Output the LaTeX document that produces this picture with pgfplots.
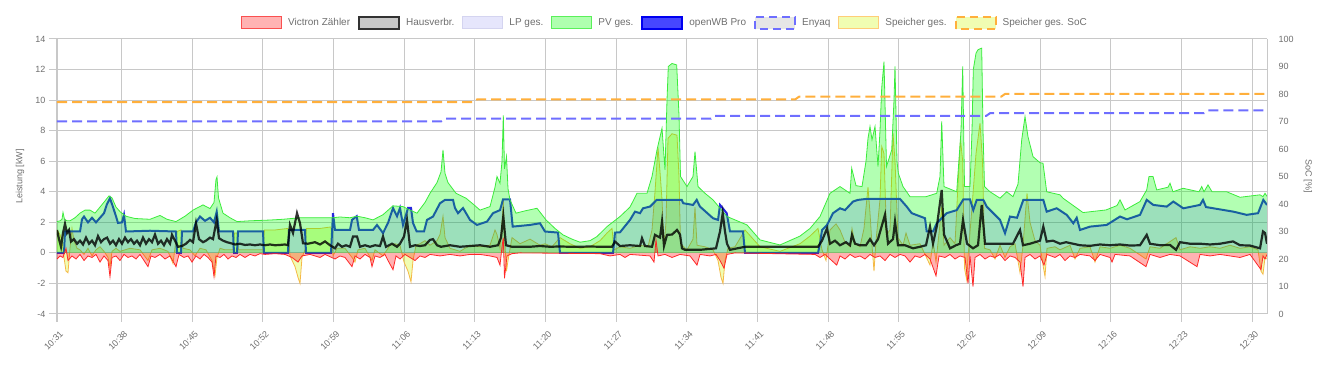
\documentclass[border=0pt]{standalone}
\usepackage{fontspec}
\setmainfont{Liberation Sans}
\usepackage{pgfplots}
\usepackage{pgfplotstable}
\pgfplotsset{compat=1.18}
\definecolor{gridc}{RGB}{200,200,200}
\definecolor{txt}{RGB}{110,110,110}
\definecolor{vzline}{RGB}{255,40,40}
\definecolor{pvline}{RGB}{60,235,60}
\definecolor{spline}{RGB}{245,185,70}
\definecolor{spfill}{RGB}{205,248,0}
\definecolor{enyaq}{RGB}{110,110,255}
\definecolor{spsoc}{RGB}{255,175,60}
\definecolor{wbline}{RGB}{40,40,220}

% x = sample position (chart.js category index scale), y = kW
\pgfplotstableread{
x y
57 2.05
60 2.1
62 2.2
63 2.65
64.5 2.2
67 2.1
70 2.1
75 2.3
80 2.6
85 2.8
90 2.8
95 2.6
100 3.0
105 3.4
109 3.73
112 3.6
116 3.0
120 2.7
126 2.4
135 2.25
150 2.2
160 2.45
167 2.2
176 2.05
185 2.4
193 2.8
203 3.14
210 2.9
214 3.3
216 4.8
217 4.97
218.5 3.6
223 2.6
230 2.3
237 2.05
250 2.1
270 2.15
283 2.2
300 2.3
320 2.3
333 2.3
340 2.35
350 2.3
357 2.4
365 2.3
373 2.16
383 2.5
393 3.08
403 3.03
410 2.8
417 2.6
425 3.3
430 3.9
437 4.6
441 5.3
443 6.74
445 5.2
448 4.6
456 3.9
466 3.58
473 3.2
480 2.8
490 3.03
495 4.3
497 5.0
500 4.56
502 6.0
503.3 9.0
504.5 5.5
506.5 6.3
508 4.2
510 3.47
516 2.6
525 2.75
537 2.92
546 2.16
555 1.6
563 1.18
572 0.9
580 0.7
590 0.8
597 1.07
607 1.72
620 2.38
630 3.0
637 3.9
647 3.9
652 5.0
657 6.74
662 8.16
665 5.43
667 10
668.3 12.2
672 12.4
676.7 12.3
679 9
680.5 5.0
687 4.34
693 5.0
695 6.63
698 4.34
705 3.9
713 3.47
727 2.38
747 1.83
760 0.85
780 0.52
800 1.1
810 1.6
820 2.38
830 3.9
840 4.34
850 3.9
851.7 5.54
856 4.4
862 4.34
866 6.0
868 7.5
870 8.27
872 7.4
875 8.27
878 5.65
880 8
881.7 10.78
884 12.52
886.5 5.65
891.7 6.74
894 10
895 12.2
897 6
898.3 5.22
903 4.34
910 3.68
926 3.68
936.7 3.9
940 5
941.7 8.6
944 4.34
956.7 4.0
961 8
962.7 12.2
964.5 4.34
970 4.34
972 8
973.3 12.0
976 13.07
978 13.3
981.7 13.4
983 8
984.5 4.34
990 4.0
1000 3.58
1006.7 4.0
1013 3.68
1018 4.5
1021.7 7.4
1025 8.92
1028 7.6
1033 6.3
1040 5.9
1043 5.87
1046.7 4.0
1060 3.8
1063 3.58
1083 2.64
1106 2.81
1117 3.1
1120 3.47
1125 2.81
1140 3.36
1146.7 4.12
1149 5.0
1153 5.0
1156.7 4.12
1168 4.3
1170 4.56
1173 4.0
1183 4.23
1199 4.0
1201.7 4.34
1204 4.0
1208 4.45
1212 4.0
1226.7 4.0
1240 3.64
1260 3.8
1263 3.68
1265 3.9
1267 3.7
}\pv

\pgfplotstableread{
x y
57 0
64 0
65 1.4
80 1.4
82 2.2
84 2.38
88 2.0
92 2.3
96 2.0
100 2.3
104 2.6
107 3.2
110 3.58
113 3.0
116 2.4
118 1.96
122 2.0
124 2.5
126 1.4
150 1.45
176 1.4
177 0
181 0
182 1.4
193 1.4
196 2.0
200 2.38
205 2.1
210 2.3
214 2.0
216.7 2.7
219 1.4
233 1.4
234 0
237 0
238 1.4
263 1.4
264 0
288 0
289 1.5
305 1.5
306 0
331 0
333 2.6
335 1.5
350 1.5
352 2.16
356.7 2.4
359 1.5
373 1.5
377 1.83
383 1.3
388 1.96
393 2.94
397 2.4
400 2.94
403 1.83
408 2.94
411 2.94
413 1.96
416.7 1.4
424 1.4
427 2.16
433 2.38
440 3.25
445 3.47
453 3.47
455 2.94
458 2.6
463 2.94
470 2.16
477 1.83
487 2.05
493 2.6
500 2.8
503 3.5
510 3.5
512.7 1.72
530 1.83
540 1.94
545 1.4
558 1.33
560 0
613 0
615 1.33
620 1.35
630 2.16
635 2.7
640 2.6
643 2.92
650 3.03
656.7 3.47
681.7 3.47
683.3 3.25
693 3.14
696.7 3.47
700 3.03
713 2.27
718 2.16
720 3.14
726.7 2.6
730 1.4
743 1.4
745 0
818 0
820 0.63
822 1.5
827 1.83
833 2.6
840 2.92
845 2.8
853 3.36
858 3.47
866 3.53
900 3.53
906.7 3.03
911.7 2.6
925 2.27
926.7 1.4
933 1.4
936.7 1.94
940 2.16
946.7 2.6
956.7 2.8
963.3 3.5
970 3.5
973.3 2.8
976.7 3.47
983.3 3.47
986.7 3.03
993.3 2.6
1000 2.16
1005 1.29
1010 2.38
1017 2.3
1023.3 3.47
1043.3 3.47
1046.7 2.7
1056.7 2.92
1066.7 2.49
1073.3 1.94
1076.7 2.3
1080 1.5
1090 1.72
1106.7 1.83
1120 2.38
1127 2.2
1140 2.49
1146.7 3.47
1153.3 3.14
1166.7 3.03
1173.3 3.36
1183.3 2.92
1200 3.14
1203 3.47
1206 3.0
1213.3 2.92
1233.3 2.7
1246.7 2.49
1258 2.6
1263.3 3.47
1267 3.14
}\lp

\pgfplotstableread{
x y
57 1.5
59 0.9
61 0.4
63 1.3
65 1.9
67 1.3
69 1.5
71 0.74
74 0.9
77 0.6
80 0.8
83 0.55
86 1.0
89 0.6
92 0.8
95 0.5
98 1.1
101 0.7
104 0.9
107 1.0
110 0.6
113 0.8
116 0.5
119 0.9
122 0.6
125 1.0
128 0.7
131 0.9
134 0.6
137 0.8
140 0.5
143 1.0
146 0.6
149 0.9
152 0.7
155 1.2
158 0.6
161 0.8
164 0.5
167 0.9
170 0.6
172 1.18
175 0.8
178 0.4
182 0.45
186 0.6
190 0.85
193 0.7
196 1.94
199 0.9
203 0.7
206 0.8
210 1.0
213 0.9
216.7 2.16
219 0.96
223 0.8
227 0.7
231 0.63
235 0.55
240 0.6
245 0.52
250 0.55
255 0.5
260 0.55
265 0.5
270 0.55
275 0.5
280 0.52
285 0.55
288 0.5
290 1.83
293 1.3
297 2.6
300 1.94
303 0.63
308 0.6
315 0.7
320 0.55
325 0.75
330 0.5
335 0.3
338 0.6
342 0.4
346 0.5
350 0.4
353 1.07
357 1.07
360 0.4
365 0.5
370 0.4
375 0.5
380 0.45
383 1.07
386 0.4
392 0.6
397 0.4
400 0.6
404 1.07
407 2.16
410 0.4
415 0.5
420 0.45
425 0.5
430 0.85
433 0.9
437 0.5
441 0.4
450 0.5
460 0.4
470 0.45
480 0.5
490 0.4
498 0.5
501 1.0
503.3 2.38
506 0.5
512 0.4
530 0.4
540 0.45
550 0.4
560 0.42
570 0.4
580 0.4
590 0.42
600 0.4
612 0.4
615 0.74
620 0.45
630 0.5
640 0.45
642 0.96
645 0.45
652 0.4
655 1.18
660 1.0
662 2.05
664 0.45
667 1.18
672 1.2
677 1.5
680 1.2
682 0.3
685 0.2
700 0.2
716 0.3
720 1.4
722.7 2.6
725 1.4
727 0.6
730 0.2
745 0.4
760 0.4
780 0.4
800 0.4
818 0.4
822 0.8
827 1.6
830 0.6
835 0.8
840 0.5
846 0.7
850 0.5
852 1.18
855 0.6
860 0.5
866 0.5
870 0.9
874 0.5
878 0.9
885 2.5
888 0.6
893 0.9
895 2.05
898 0.5
905 0.5
913 0.3
920 0.4
926 0.5
930 1.72
933 0.6
937 1.8
941.7 4.12
944 1.2
950 0.3
956 0.5
960 0.6
963 2.16
967 0.6
973 0.3
978 0.5
981.7 3.14
985 0.6
993 0.6
1000 0.6
1010 0.6
1013 0.6
1020 1.5
1023 0.5
1030 0.6
1040 0.8
1043.3 1.72
1046.7 0.74
1053 0.8
1060 0.6
1066 0.7
1073 0.6
1080 0.5
1090 0.46
1100 0.55
1110 0.5
1120 0.55
1130 0.48
1140 0.5
1146.7 1.18
1150 0.6
1160 0.5
1170 0.52
1176 0.2
1180 0.7
1190 0.6
1200 0.6
1210 0.55
1220 0.6
1233 0.75
1240 0.5
1250 0.48
1260 0.3
1263 1.4
1265 1.3
1267 0.6
}\haus

\pgfplotstableread{
x y
57 -0.4
60 -0.2
63 -0.3
66 0.3
68 -0.5
72 -0.2
76 -0.4
80 -0.1
84 -0.5
88 -0.2
92 -0.3
96 -0.1
100 -0.6
104 -0.2
108 -0.5
110 -1.55
112 -0.3
116 -0.2
120 -0.5
124 -0.1
128 -0.3
132 -0.2
136 -0.4
140 -0.1
144 -0.5
148 -0.9
151 -0.2
155 -0.3
160 -0.1
165 -0.4
170 -0.2
176 -0.9
179 -0.1
184 -0.3
188 -0.2
192 -0.6
196 -0.2
200 -0.4
204 -0.1
208 -0.3
212 -0.6
214 -1.55
216 -0.2
220 -0.3
224 -0.1
228 -0.4
232 -0.2
236 -0.3
240 -0.1
245 -0.3
250 -0.1
255 -0.2
260 -0.05
265 -0.1
275 -0.05
285 -0.1
292 -0.3
298 -0.6
302 -0.2
310 -0.1
320 -0.3
325 -0.1
335 -0.4
340 -0.2
345 -0.3
352 -0.9
355 -0.2
360 -0.4
365 -0.1
370 -0.3
372 -0.9
375 -0.2
380 -0.3
385 -0.1
388 -0.5
393 -1.1
396 -0.2
400 -0.4
405 -0.1
410 -0.3
415 -0.5
420 -0.2
425 -0.3
430 -0.1
440 -0.2
450 -0.1
460 -0.2
470 -0.1
480 -0.1
490 -0.2
497 -0.3
500 -0.8
502 0.4
503.3 1.0
504.5 -1.66
507 -0.2
512 -0.05
520 0
600 -0.05
610 -0.2
620 -0.1
625 -0.3
630 -0.1
650 -0.2
654 -0.6
656 0.85
658 -0.2
665 -0.1
672 -0.3
680 -0.1
690 -0.2
697 -0.8
700 -0.1
710 -0.2
716 -0.1
720 -0.5
724 -1.0
727 -0.1
735 0
815 -0.1
820 -0.3
825 -0.1
830 -0.4
836.7 -0.8
840 -0.2
845 -0.4
850 -0.1
855 -0.3
860 -0.2
865 -0.4
870 -0.1
875 -0.3
880 -0.2
885 -0.5
890 -0.1
895 -0.3
900 -0.1
905 -0.2
910 -0.6
915 -0.2
920 -0.3
925 -0.1
930 -0.4
936 -1.5
939 -0.2
945 -0.3
950 -0.1
955 -0.4
960 -0.2
965 -0.3
968 -2.0
970 -0.2
973 -2.2
975 -0.3
980 -0.1
985 -0.4
990 -0.2
995 -0.3
1000 -0.1
1005 -0.5
1010 -0.2
1015 -0.3
1020 -0.6
1023 -2.2
1025 -0.3
1030 -0.1
1035 -0.4
1040 -0.2
1044 -0.8
1047 -0.1
1055 -0.3
1060 -0.1
1065 -0.5
1070 -0.2
1075 -0.3
1080 -0.1
1090 -0.2
1095 -0.5
1100 -0.1
1110 -0.3
1112 -0.6
1115 -0.1
1130 -0.2
1146 -0.9
1150 -0.1
1160 -0.3
1170 -0.1
1180 -0.2
1197 -0.9
1200 -0.1
1210 -0.2
1220 -0.1
1240 -0.3
1250 -0.1
1261 -1.1
1263 -0.2
1265 -0.4
1267 -0.1
}\victron

\pgfplotstableread{
x y
57 1.5
60 1.2
62 0.8
64 -0.3
66 -1.2
68 -1.3
70 0.3
72 1.6
74 0.8
77 0.3
80 0.2
84 -0.1
88 0.3
92 -0.2
96 0.2
100 0.4
104 0.1
108 -0.3
110 -0.9
112 0.1
116 0.3
120 0.1
125 0.2
130 0.3
140 0.2
148 -0.5
152 0.2
160 0.3
168 0.1
173 -0.7
177 1.4
181 1.5
183 0.3
190 0.2
195 -0.2
200 0.3
206 0.2
212 -0.5
215 -1.5
217 -0.3
220 0.3
225 0.2
233 0.2
234.5 1.3
237 1.3
238.5 0.2
250 0.2
263 0.2
264.5 1.5
275 1.5
288 1.6
290 -0.2
295 -0.9
298 -1.6
300 -2.0
302 -0.3
305 0.2
306.5 1.6
320 1.6
331 1.7
333 -0.2
337 0.3
345 0.3
352 -0.3
355 -0.6
358 0.2
365 0.3
372 -0.5
375 0.2
383 -0.2
390 0.5
395 0.6
400 0.5
404 -0.6
408 -1.2
411 -1.9
413 -0.5
416 0.5
420 0.6
425 0.8
430 0.5
437 0.8
440 1.2
443 2.4
445 1.0
450 0.3
460 0.1
470 0.5
480 0.4
490 0.5
495 1.5
497 1.2
500 0.3
502 2.0
503.3 3.5
505 0.5
506.5 -1.2
508 -0.5
512 1.0
520 0.6
530 0.9
540 0.5
545 0.6
552 0.4
560 1.0
570 0.6
580 0.3
590 0.4
600 0.8
607 1.3
612 1.6
614 0.2
620 0.4
630 0.3
640 0.5
648 0.4
652 1.5
655 4.0
658 6.9
660 5.3
662 3.5
664 0.5
666 2.0
668 7.5
672 7.8
677 7.7
679 5
680.5 0.6
687 0.2
693 0.9
695 3.0
697 0.5
705 0.4
713 0.2
718 -0.5
721 -1.6
723 -2.0
725 -0.5
728 0.3
735 0.4
745 1.5
760 0.4
780 0.1
800 0.6
810 1.1
818 1.6
822 0.2
826 -0.5
830 1.5
836 1.9
840 1.5
845 0.7
850 0.4
852 1.6
855 0.6
860 0.4
864 1.6
868 4.3
870 2.6
872 0.5
874 -1.2
876 0.8
880 3.5
881.7 6.96
884 6.5
886.5 1.2
890 1.5
893 7.83
895 6
898 1.0
903 0.5
906 1.3
910 0.5
920 0.6
930 -0.8
933 0.8
936 -0.6
941.7 3.0
944 0.5
950 1.0
955 0.6
958 4.5
960.5 7.4
962.7 6
964.5 -1.0
966.7 -1.77
968 -0.3
972 3.0
976 6.5
980 8.49
982.5 6.0
984.5 0.3
990 0.2
995 -0.4
1000 0.5
1005 -0.3
1010 0.4
1015 0.6
1020 -1.3
1023 0.5
1027 3.9
1030 2.0
1035 0.8
1040 0.5
1043 -0.8
1045 -1.55
1047 0.3
1055 0.4
1060 0.2
1070 0.5
1075 -0.4
1080 0.3
1090 0.4
1095 -0.6
1100 0.4
1110 0.3
1120 0.5
1130 0.3
1146 -0.4
1150 0.4
1160 0.3
1176 1.0
1180 0.2
1190 0.4
1200 0.3
1210 0.4
1220 0.3
1230 0.5
1240 0.3
1250 0.4
1258 0.2
1261 -1.2
1263 -1.4
1265 -0.3
1267 -0.4
}\speicher

% SoC in percent (right axis)
\pgfplotstableread{
x y
57 70
441 70
445 71
711 71
714 72
986 72
990 73
1204 73
1208 74
1267 74
}\enyaq

\pgfplotstableread{
x y
57 77
473 77
477 78
795 78
799 79
1001 79
1005 80
1267 80
}\spsoc

\begin{document}
\begin{tikzpicture}
\begin{axis}[
  name=main,
  scale only axis, width=1210pt, height=275pt,
  xmin=57, xmax=1267, ymin=-4, ymax=14,
  ytick={-4,-2,...,14},
  xtick={57,121.3,192,262.7,333.4,404.1,474.8,545.4,616.1,686.8,757.5,828.2,898.9,969.6,1040.3,1110.9,1181.6,1252.3},
  xticklabels={10:31,10:38,10:45,10:52,10:59,11:06,11:13,11:20,11:27,11:34,11:41,11:48,11:55,12:02,12:09,12:16,12:23,12:30},
  axis x line*=bottom, axis y line*=left,
  axis line style={gridc, line width=1pt},
  grid=major, grid style={gridc, line width=1pt},
  tick style={gridc, line width=1pt},
  tick align=outside, major tick length=8pt,
  /pgf/number format/assume math mode=true,
  ticklabel style={text=txt, font=\fontsize{9}{10}\selectfont},
  xticklabel style={xshift=7pt, yshift=-8pt, rotate=45, anchor=east},
  ylabel={Leistung [kW]},
  ylabel style={at={(axis description cs:-0.0306,0.5)}, anchor=center, text=txt, font=\fontsize{9}{10}\selectfont},
  legend columns=-1,
  legend style={at={(0.5,1)}, anchor=south, yshift=9pt, xshift=2pt, draw=none, fill=none,
    inner sep=0pt, nodes={inner sep=0pt, text=txt, font=\fontsize{10}{12}\selectfont},
    /tikz/every odd column/.append style={column sep=6pt},
    /tikz/every even column/.append style={column sep=8pt}},
  legend cell align=left,
]
% legend entries (chart order)
\addlegendimage{legend image code/.code={\draw[draw={rgb,255:red,250;green,80;blue,80},fill={rgb,255:red,255;green,179;blue,179},line width=1pt] (0pt,-6pt) rectangle (40pt,6pt);}}
\addlegendentry{Victron Zähler}
\addlegendimage{legend image code/.code={\draw[draw={rgb,255:red,50;green,50;blue,50},fill={rgb,255:red,200;green,200;blue,200},line width=2pt] (0pt,-6pt) rectangle (40pt,6pt);}}
\addlegendentry{Hausverbr.}
\addlegendimage{legend image code/.code={\draw[draw={rgb,255:red,212;green,212;blue,240},fill={rgb,255:red,230;green,230;blue,252},line width=1pt] (0pt,-6pt) rectangle (40pt,6pt);}}
\addlegendentry{LP ges.}
\addlegendimage{legend image code/.code={\draw[draw={rgb,255:red,90;green,240;blue,90},fill={rgb,255:red,175;green,255;blue,175},line width=1pt] (0pt,-6pt) rectangle (40pt,6pt);}}
\addlegendentry{PV ges.}
\addlegendimage{legend image code/.code={\draw[draw={rgb,255:red,0;green,0;blue,240},fill={rgb,255:red,70;green,70;blue,255},line width=2pt] (0pt,-6pt) rectangle (40pt,6pt);}}
\addlegendentry{openWB Pro}
\addlegendimage{legend image code/.code={\draw[draw=enyaq,fill={rgb,255:red,230;green,230;blue,230},line width=2pt,dash pattern=on 8pt off 5pt] (0pt,-6pt) rectangle (40pt,6pt);}}
\addlegendentry{Enyaq}
\addlegendimage{legend image code/.code={\draw[draw={rgb,255:red,255;green,205;blue,120},fill={rgb,255:red,240;green,253;blue,178},line width=1pt] (0pt,-6pt) rectangle (40pt,6pt);}}
\addlegendentry{Speicher ges.}
\addlegendimage{legend image code/.code={\draw[draw=spsoc,fill={rgb,255:red,240;green,253;blue,178},line width=2pt,dash pattern=on 8pt off 5pt] (0pt,-6pt) rectangle (40pt,6pt);}}
\addlegendentry{Speicher ges. SoC}

% Speicher ges.
\addplot[draw=none, fill=spfill, fill opacity=0.3, forget plot] table {\speicher} \closedcycle;
\addplot[spline, line width=0.8pt, forget plot] table {\speicher};
% openWB Pro line
\addplot[wbline, line width=2pt, forget plot] table {\lp};
% PV ges.
\addplot[draw=none, fill={rgb,255:red,0;green,255;blue,0}, fill opacity=0.3, forget plot] table {\pv} \closedcycle;
\addplot[pvline, line width=0.8pt, forget plot] table {\pv};
% LP ges.
\addplot[draw=none, fill=blue, fill opacity=0.12, forget plot] table {\lp} \closedcycle;
% Hausverbr.
\addplot[black, draw opacity=0.8, line width=2.2pt, forget plot] table {\haus};
% Victron
\addplot[draw=none, fill=red, fill opacity=0.3, forget plot] table {\victron} \closedcycle;
\addplot[vzline, line width=0.8pt, forget plot] table {\victron};
\end{axis}

\begin{axis}[
  at={(main.south west)}, anchor=south west,
  scale only axis, width=1210pt, height=275pt,
  xmin=57, xmax=1267, ymin=0, ymax=100,
  ytick={0,10,...,100},
  axis x line=none, axis y line*=right,
  axis line style={gridc, line width=1pt},
  major tick length=0pt,
  /pgf/number format/assume math mode=true,
  yticklabel style={text=txt, font=\fontsize{9}{10}\selectfont, anchor=west, xshift=8pt},
  ylabel={SoC [\%]},
  ylabel style={at={(axis description cs:1.0339,0.5)}, anchor=center, rotate=180, text=txt, font=\fontsize{9}{10}\selectfont},
]
\addplot[enyaq, line width=2pt, dash pattern=on 10pt off 5pt] table {\enyaq};
\addplot[spsoc, line width=2pt, dash pattern=on 10pt off 5pt] table {\spsoc};
\end{axis}
\pgfresetboundingbox
\path (main.south west) ++(-57pt,-52pt) rectangle ++(1322pt,366pt);
\end{tikzpicture}
\end{document}
